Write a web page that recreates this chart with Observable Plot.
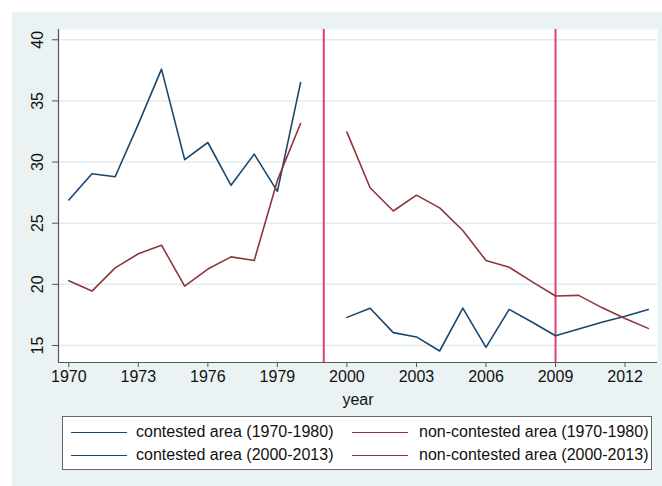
<!DOCTYPE html>
<html><head><meta charset="utf-8">
<script src="https://cdn.jsdelivr.net/npm/d3@7"></script>
<script src="https://cdn.jsdelivr.net/npm/@observablehq/plot@0.6"></script>
<style>
html,body{margin:0;padding:0;background:#fff;width:662px;height:486px;overflow:hidden;font-family:"Liberation Sans",Arial,sans-serif;}
#bg{position:absolute;left:12px;top:12px;width:650px;height:474px;background:#eaf2f3;}
#chart{position:absolute;left:0;top:0;}
#legend{position:absolute;left:62px;top:416px;width:588px;height:52px;background:#fff;border:1px solid #666;}
.item{position:absolute;font-size:16px;color:#111;white-space:nowrap;line-height:16px;}
.swatch{position:absolute;height:0;border-top:1.5px solid;}
</style></head><body>
<div id="bg"></div><div id="chart"></div><div id="legend"></div>
<script>
// ---- data ----
const years1 = [1970, 1971, 1972, 1973, 1974, 1975, 1976, 1977, 1978, 1979, 1980];
const contested1 = [26.9, 29.05, 28.8, 33.1, 37.6, 30.2, 31.6, 28.1, 30.65, 27.6, 36.5];
const noncontested1 = [20.3, 19.45, 21.35, 22.5, 23.2, 19.85, 21.25, 22.25, 21.95, 28.5, 33.15];
const years2 = [2000, 2001, 2002, 2003, 2004, 2005, 2006, 2007, 2008, 2009, 2010, 2011, 2012, 2013];
const contested2 = [17.3, 18.05, 16.05, 15.7, 14.55, 18.05, 14.85, 17.95, 16.9, 15.8, 16.35, 16.9, 17.4, 17.95];
const noncontested2 = [32.45, 27.9, 26.0, 27.3, 26.25, 24.4, 21.95, 21.4, 20.2, 19.05, 19.1, 18.1, 17.2, 16.4];
const xTickYears = [1970, 1973, 1976, 1979, 2000, 2003, 2006, 2009, 2012];
const yTicks = [15, 20, 25, 30, 35, 40];
const vlineYears = [1999, 2009];
const legendLabels = ["contested area (1970-1980)", "non-contested area (1970-1980)", "contested area (2000-2013)", "non-contested area (2000-2013)"];
const blue = "#1a476f", maroon = "#90353b", vred = "#dc3c64";
const legendColors = [blue, maroon, blue, maroon];

// broken axis: 1970s then 2000s placed right after
const pos = y => y < 1990 ? y - 1970 : y - 1988;
const series = (years, vals) => years.map((y, i) => ({x: pos(y), v: vals[i]}));
const labelMap = new Map(xTickYears.map(y => [pos(y), String(y)]));

const xDom = [-0.444, 25.40], yDom = [13.61, 40.84];
const font = '"Liberation Sans", Arial, sans-serif';

const chart = Plot.plot({
  width: 662, height: 410,
  marginLeft: 58, marginRight: 5, marginTop: 29, marginBottom: 48,
  x: {domain: xDom},
  y: {domain: yDom},
  style: {background: "transparent", fontFamily: font, fontSize: "16px", color: "#111", overflow: "visible"},
  marks: [
    Plot.frame({fill: "white", stroke: null}),
    Plot.ruleY(yTicks, {stroke: "#e2ecee", strokeWidth: 1.5}),
    Plot.ruleX(vlineYears.map(pos), {stroke: vred, strokeWidth: 1.9}),
    Plot.line(series(years1, contested1), {x: "x", y: "v", stroke: blue, strokeWidth: 1.6}),
    Plot.line(series(years1, noncontested1), {x: "x", y: "v", stroke: maroon, strokeWidth: 1.6}),
    Plot.line(series(years2, contested2), {x: "x", y: "v", stroke: blue, strokeWidth: 1.6}),
    Plot.line(series(years2, noncontested2), {x: "x", y: "v", stroke: maroon, strokeWidth: 1.6}),
    Plot.ruleX([xDom[0]], {stroke: "#555", strokeWidth: 1.2}),
    Plot.ruleY([yDom[0]], {stroke: "#555", strokeWidth: 1.2}),
    Plot.axisX(xTickYears.map(pos), {tickFormat: d => labelMap.get(d), tickSize: 5, tickPadding: 3, fontSize: 16, label: null, stroke: "#555"}),
    Plot.axisY(yTicks, {tickSize: 6, tickFormat: () => "", label: null, stroke: "#555"}),
    Plot.text(yTicks, {y: d => d, text: d => String(d), frameAnchor: "left", dx: -21, rotate: -90, fontSize: 16, textAnchor: "middle", lineAnchor: "middle", fill: "#111"}),
    Plot.text(["year"], {text: d => d, frameAnchor: "bottom", dy: 37, fontSize: 16, lineAnchor: "middle", fill: "#111"})
  ]
});
document.getElementById("chart").appendChild(chart);

// legend (2 columns x 2 rows)
const lg = document.getElementById("legend");
const colX = [8, 289], textX = [73, 356], rowY = [15, 38];
legendLabels.forEach((lab, i) => {
  const c = i % 2, r = Math.floor(i / 2);
  const sw = document.createElement("div");
  sw.className = "swatch";
  sw.style.left = colX[c] + "px"; sw.style.top = rowY[r] + "px"; sw.style.width = "56px";
  sw.style.borderTopColor = legendColors[i];
  lg.appendChild(sw);
  const t = document.createElement("div");
  t.className = "item";
  t.style.left = textX[c] + "px"; t.style.top = (rowY[r] - 8) + "px";
  t.textContent = lab;
  lg.appendChild(t);
});
</script>
</body></html>
